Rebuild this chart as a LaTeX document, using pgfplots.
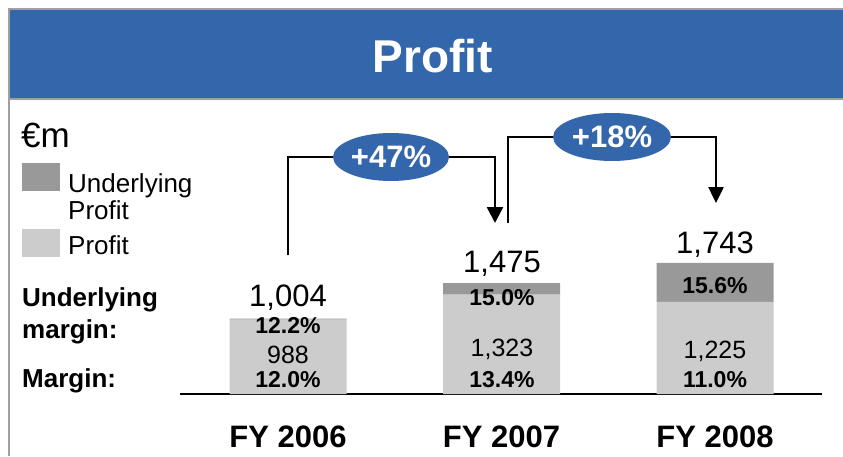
\documentclass[border=0pt]{standalone}
\usepackage{pgfplots}
\pgfplotsset{compat=1.18}
\usepackage{fontspec}
\setmainfont{Liberation Sans}
\usetikzlibrary{arrows.meta}
\definecolor{tblue}{RGB}{52,102,172}
\definecolor{frame}{RGB}{160,160,160}
\definecolor{dgray}{RGB}{153,153,153}
\definecolor{lgray}{RGB}{204,204,204}
\newcommand{\fs}[1]{\fontsize{#1}{#1}\selectfont}
\begin{document}
\begin{tikzpicture}
\useasboundingbox (0,0) rectangle (843pt,456pt);
% frame
\fill[tblue] (10pt,358pt) rectangle (843pt,446pt);
\draw[frame, line width=2pt] (8pt,447pt) -- (843pt,447pt);
\draw[frame, line width=1.5pt] (9pt,357pt) -- (843pt,357pt);
\draw[frame, line width=2pt] (9pt,0pt) -- (9pt,448pt);
\node[text=white, font=\fs{46}\bfseries] at (433pt,400pt) {Profit};
% legend and left labels
\node[anchor=west, font=\fs{35}, inner sep=0pt] at (21pt,321pt) {€m};
\fill[dgray] (22pt,265pt) rectangle (60pt,293pt);
\fill[lgray] (22pt,199pt) rectangle (60pt,227pt);
\node[anchor=base west, font=\fs{26}, inner sep=0pt] at (68pt,264pt) {Underlying};
\node[anchor=base west, font=\fs{26}, inner sep=0pt] at (68pt,237pt) {Profit};
\node[anchor=base west, font=\fs{26}, inner sep=0pt] at (68pt,202pt) {Profit};
\node[anchor=base west, font=\fs{26}\bfseries, inner sep=0pt] at (22pt,150pt) {Underlying};
\node[anchor=base west, font=\fs{26}\bfseries, inner sep=0pt] at (22pt,118pt) {margin:};
\node[anchor=base west, font=\fs{26}\bfseries, inner sep=0pt] at (22pt,69pt) {Margin:};
\begin{axis}[
  at={(180pt,62pt)}, anchor=south west,
  scale only axis, width=642pt, height=200pt,
  xmin=-0.506, xmax=2.501, ymin=0, ymax=2660,
  ybar stacked, bar width=117pt,
  axis y line=none, axis x line*=bottom,
  x axis line style={black, line width=1.5pt, -},
  xtick={0,1,2}, xticklabels={FY 2006,FY 2007,FY 2008},
  major tick length=0pt,
  xticklabel style={font=\fs{31}\bfseries, anchor=base, yshift=-53pt},
  clip=false,
]
\addplot[fill=lgray, draw=none] coordinates {(0,988) (1,1323) (2,1225)};
\addplot[fill=dgray, draw=none] coordinates {(0,16) (1,152) (2,518)};
\end{axis}
% value labels
\node[anchor=base, font=\fs{31}, inner sep=0pt] at (288pt,150pt) {1,004};
\node[anchor=base, font=\fs{31}, inner sep=0pt] at (502pt,184pt) {1,475};
\node[anchor=base, font=\fs{31}, inner sep=0pt] at (715pt,203pt) {1,743};
\node[anchor=base, font=\fs{23}\bfseries, inner sep=0pt] at (288pt,123pt) {12.2\%};
\node[anchor=base, font=\fs{25}, inner sep=0pt] at (288pt,93pt) {988};
\node[anchor=base, font=\fs{23}\bfseries, inner sep=0pt] at (288pt,69pt) {12.0\%};
\node[anchor=base, font=\fs{23}\bfseries, inner sep=0pt] at (502pt,151pt) {15.0\%};
\node[anchor=base, font=\fs{25}, inner sep=0pt] at (502pt,100pt) {1,323};
\node[anchor=base, font=\fs{23}\bfseries, inner sep=0pt] at (502pt,69pt) {13.4\%};
\node[anchor=base, font=\fs{23}\bfseries, inner sep=0pt] at (715pt,163pt) {15.6\%};
\node[anchor=base, font=\fs{25}, inner sep=0pt] at (715pt,98pt) {1,225};
\node[anchor=base, font=\fs{23}\bfseries, inner sep=0pt] at (715pt,69pt) {11.0\%};
% growth arrows
\draw[line width=2.5pt, -{Triangle[length=16pt,width=16pt]}] (288pt,201pt) -- (288pt,299pt) -- (495pt,299pt) -- (495pt,233pt);
\draw[line width=2.5pt, -{Triangle[length=16pt,width=15pt]}] (508pt,233pt) -- (508pt,319pt) -- (716pt,319pt) -- (716pt,253pt);
\fill[tblue] (391pt,299pt) ellipse [x radius=58pt, y radius=24pt];
\fill[tblue] (612pt,319pt) ellipse [x radius=59pt, y radius=24pt];
\node[text=white, font=\fs{31}\bfseries] at (391pt,299pt) {+47\%};
\node[text=white, font=\fs{31}\bfseries] at (612pt,319pt) {+18\%};
\end{tikzpicture}
\end{document}
